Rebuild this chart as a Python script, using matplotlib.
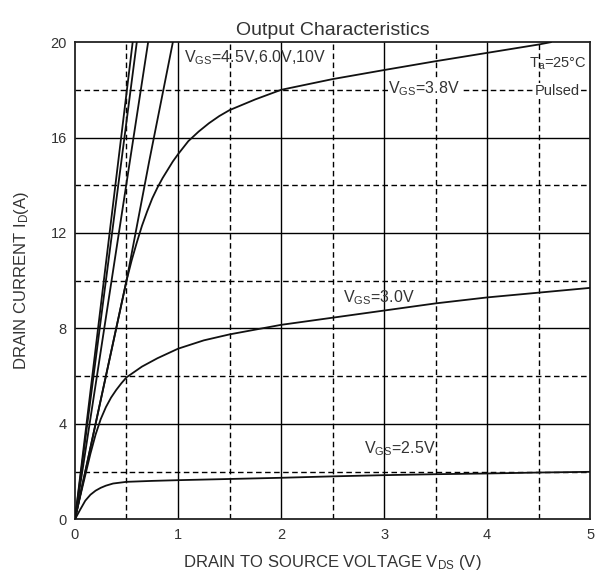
import matplotlib
matplotlib.use('Agg')
import matplotlib.pyplot as plt

plt.rcParams['font.family'] = ['Liberation Sans', 'DejaVu Sans']
plt.rcParams['mathtext.fontset'] = 'custom'
plt.rcParams['mathtext.rm'] = 'Liberation Sans'
plt.rcParams['mathtext.it'] = 'Liberation Sans'
plt.rcParams['mathtext.default'] = 'regular'

# steep curves (VGS = 10V, 6.0V, 4.5V ...)
v_l1 = [0, 0.56]
i_l1 = [0, 20]
v_l2 = [0, 0.6]
i_l2 = [0, 20]
v_l3 = [0, 0.71]
i_l3 = [0, 20]
v_l4 = [0, 0.5, 0.72, 0.95]
i_l4 = [0, 10, 15, 20]

# VGS = 3.8V
v_38 = [0, 0.25, 0.5, 0.55, 0.6, 0.65, 0.7, 0.75, 0.8, 0.85, 0.9, 0.95, 1.0, 1.1, 1.2, 1.3,
        1.4, 1.5, 1.75, 2.0, 2.5, 3.0, 3.5, 4.0, 4.5, 4.62]
i_38 = [0, 5, 10, 10.85, 11.6, 12.3, 12.9, 13.45, 13.9, 14.3, 14.65, 15.0, 15.3, 15.85, 16.25, 16.6,
        16.9, 17.15, 17.6, 18.0, 18.45, 18.83, 19.2, 19.55, 19.9, 20]

# VGS = 3.0V
v_30 = [0, 0.05, 0.1, 0.15, 0.2, 0.25, 0.3, 0.35, 0.4, 0.45, 0.5, 0.65, 0.8, 1.0, 1.25, 1.5,
        2.0, 2.5, 3.0, 3.5, 4.0, 4.5, 5.0]
i_30 = [0, 0.95, 1.85, 2.75, 3.55, 4.2, 4.7, 5.1, 5.42, 5.7, 5.95, 6.4, 6.75, 7.15, 7.5, 7.75,
        8.15, 8.45, 8.75, 9.05, 9.3, 9.5, 9.7]

# VGS = 2.5V
v_25 = [0, 0.05, 0.1, 0.15, 0.2, 0.25, 0.3, 0.37, 0.5, 0.75, 1, 1.5, 2, 2.5, 3, 3.5, 4, 4.5, 5]
i_25 = [0, 0.4, 0.78, 1.03, 1.2, 1.32, 1.41, 1.5, 1.57, 1.61, 1.64, 1.69, 1.74, 1.8, 1.85, 1.89,
        1.92, 1.96, 1.99]

x_major = [0, 1, 2, 3, 4, 5]
x_minor = [0.5, 1.5, 2.5, 3.5, 4.5]
y_major = [0, 4, 8, 12, 16, 20]
y_minor = [2, 6, 10, 14, 18]

fig = plt.figure(figsize=(5.95, 5.77), dpi=100, facecolor='white')
ax = fig.add_axes([0.126, 0.1, 0.866, 0.827])

for x in x_major[1:-1]:
    ax.axvline(x, color='black', lw=1.0, zorder=1)
for y in y_major[1:-1]:
    ax.axhline(y, color='black', lw=1.0, zorder=1)
for x in x_minor:
    ax.axvline(x, color='black', lw=1.0, ls=(0, (4, 2.5)), zorder=1)
for y in y_minor:
    ax.axhline(y, color='black', lw=1.0, ls=(0, (4, 2.5)), zorder=1)

lc = '#111111'
for vv, ii in [(v_l1, i_l1), (v_l2, i_l2), (v_l3, i_l3), (v_l4, i_l4),
               (v_38, i_38), (v_30, i_30), (v_25, i_25)]:
    ax.plot(vv, ii, color=lc, lw=1.3, zorder=3, solid_capstyle='round', solid_joinstyle='round')

ax.set_xlim(0, 5)
ax.set_ylim(0, 20)
ax.set_xticks(x_major)
ax.set_yticks(y_major)
ax.tick_params(length=0, labelsize=10.5, colors='#333333', pad=6)
for s in ax.spines.values():
    s.set_linewidth(1.3)
    s.set_color('#222222')

tc = '#333333'
ax.set_title('Output Characteristics', fontsize=14, color=tc, pad=5)
ax.set_xlabel('DRAIN TO SOURCE VOLTAGE V$_{DS}$ (V)', fontsize=12, color=tc, labelpad=8)
ax.set_ylabel('DRAIN CURRENT I$_{D}$(A)', fontsize=12, color=tc, labelpad=14)

ax.text(1.06, 19.35, 'V$_{GS}$=4.5V,6.0V,10V', fontsize=11.5, color=tc, va='center', zorder=5)
ax.text(3.04, 18.05, 'V$_{GS}$=3.8V', fontsize=11.5, color=tc, va='center', zorder=5,
        bbox=dict(facecolor='white', edgecolor='none', pad=0.5))
ax.text(4.97, 19.1, 'T$_{a}$=25\u00b0C', fontsize=10.5, color=tc, va='center', ha='right', zorder=5)
ax.text(4.9, 17.95, 'Pulsed', fontsize=10.5, color=tc, va='center', ha='right', zorder=5,
        bbox=dict(facecolor='white', edgecolor='none', pad=0.5))
ax.text(2.6, 9.3, 'V$_{GS}$=3.0V', fontsize=11.5, color=tc, va='center', zorder=5)
ax.text(2.8, 2.95, 'V$_{GS}$=2.5V', fontsize=11.5, color=tc, va='center', zorder=5)

fig.savefig('out.png', dpi=100, facecolor='white')
